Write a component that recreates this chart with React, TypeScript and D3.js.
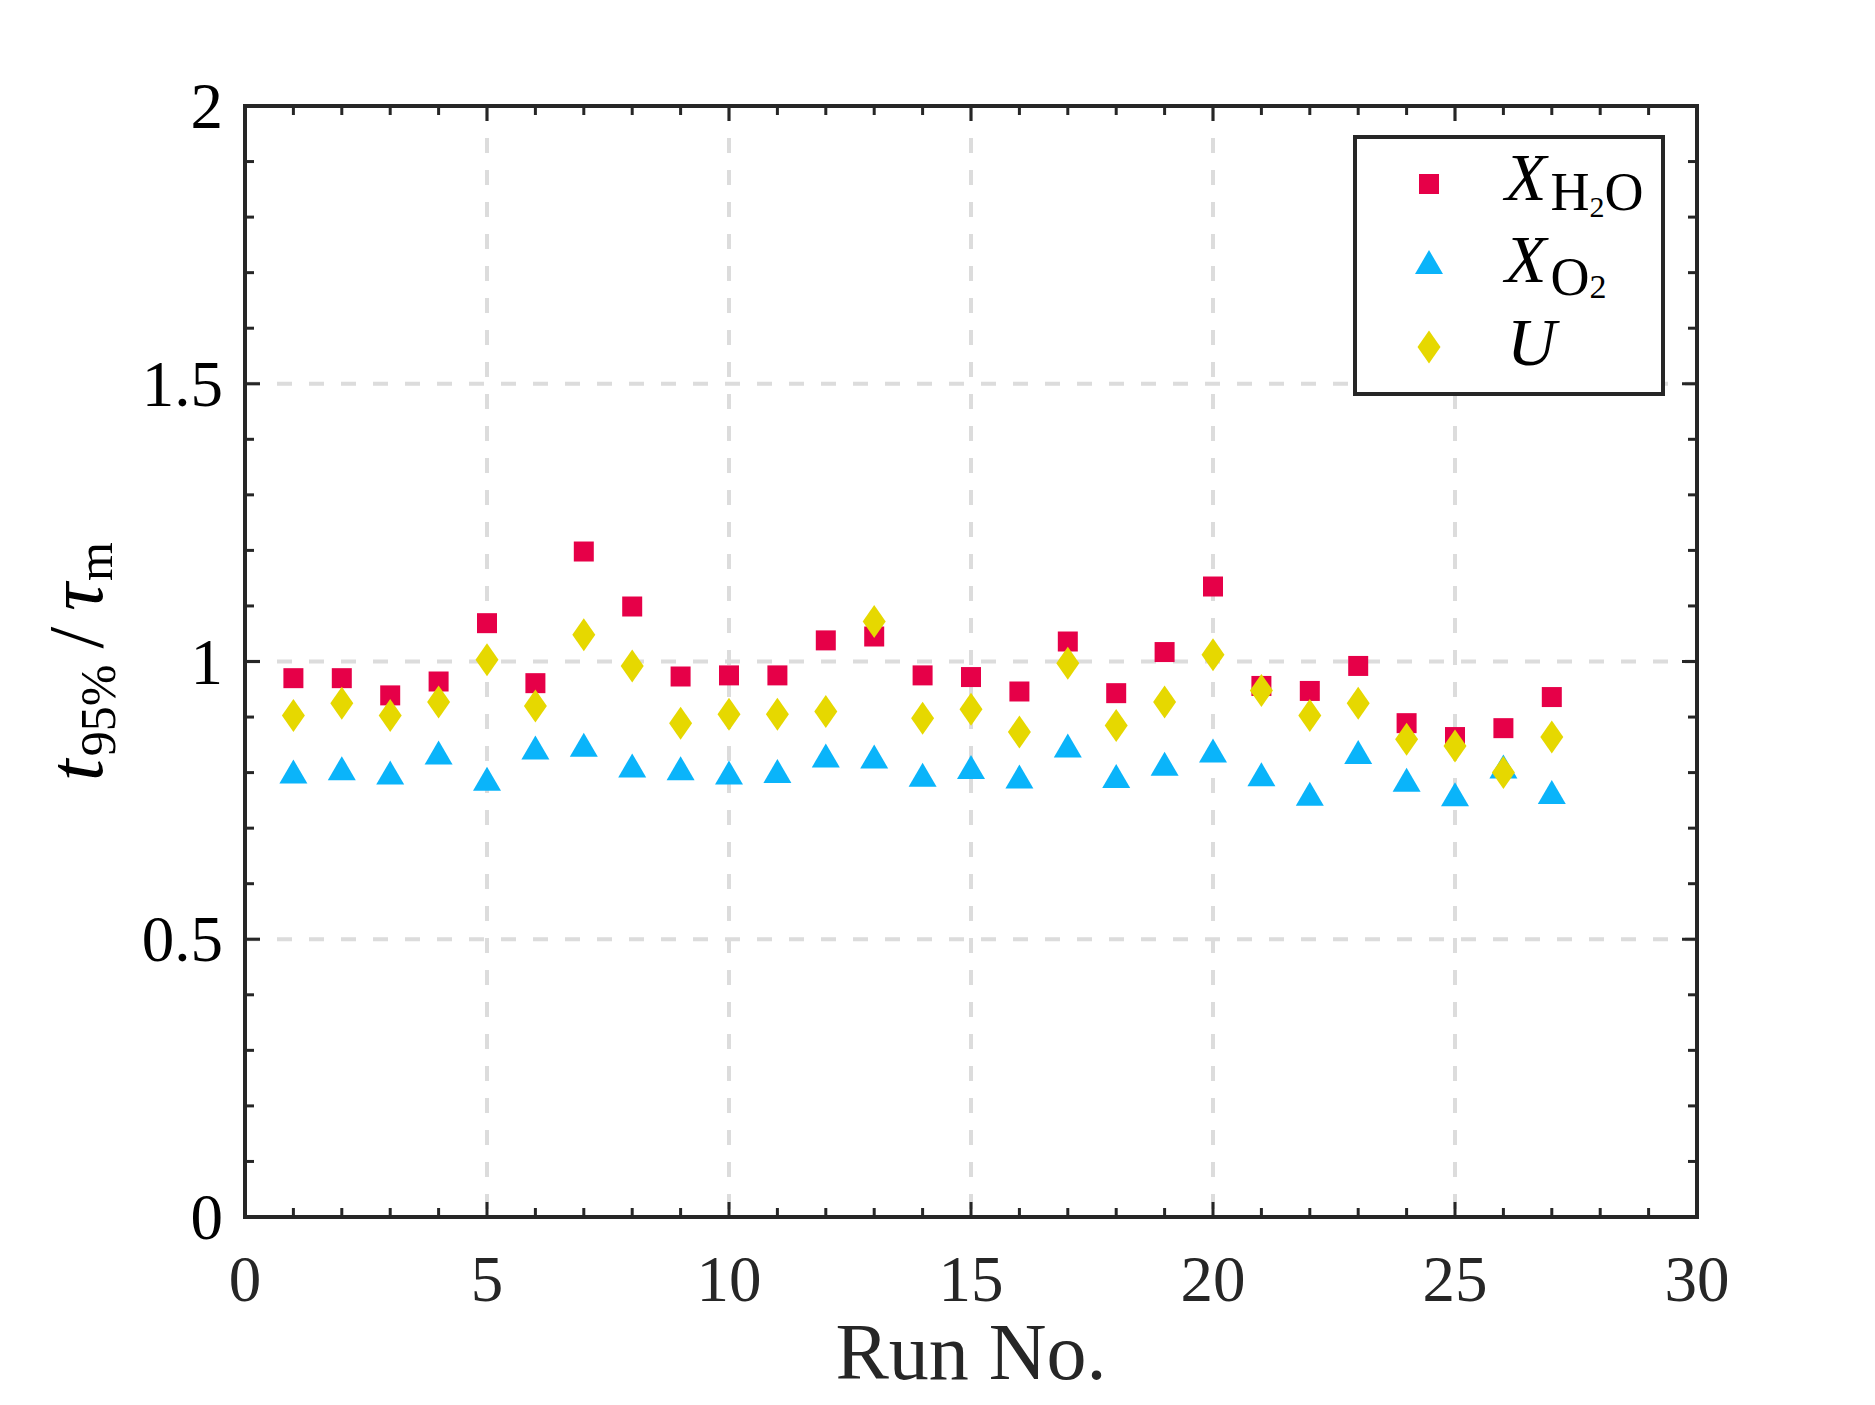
import { useEffect, useRef } from 'react';
import * as d3 from 'd3';

// Run numbers and the three normalised response times
const runs = [1, 2, 3, 4, 5, 6, 7, 8, 9, 10, 11, 12, 13, 14, 15, 16, 17, 18, 19, 20, 21, 22, 23, 24, 25, 26, 27];
const xH2O = [0.97, 0.97, 0.939, 0.964, 1.069, 0.961, 1.198, 1.099, 0.973, 0.975, 0.975, 1.038, 1.045, 0.975, 0.972, 0.946, 1.036, 0.943, 1.017, 1.135, 0.956, 0.947, 0.992, 0.889, 0.864, 0.88, 0.936];
const xO2 = [0.802, 0.808, 0.8, 0.836, 0.789, 0.845, 0.85, 0.813, 0.808, 0.8, 0.803, 0.831, 0.829, 0.796, 0.81, 0.793, 0.849, 0.794, 0.816, 0.84, 0.797, 0.762, 0.837, 0.787, 0.761, 0.811, 0.765];
const uVel = [0.903, 0.925, 0.903, 0.927, 1.003, 0.92, 1.048, 0.992, 0.889, 0.905, 0.905, 0.91, 1.072, 0.898, 0.914, 0.873, 0.997, 0.885, 0.927, 1.012, 0.948, 0.903, 0.925, 0.86, 0.848, 0.8, 0.864];

const xTicks = [0, 5, 10, 15, 20, 25, 30];
const xTickLabels = ['0', '5', '10', '15', '20', '25', '30'];
const yTicks = [0, 0.5, 1, 1.5, 2];
const yTickLabels = ['0', '0.5', '1', '1.5', '2'];

const RED = '#E60048';
const BLUE = '#0AB4FA';
const YELLOW = '#E6D800';
const AXIS = '#262626';
const FONT = '"Liberation Serif", "Times New Roman", serif';

const squarePath = 'M-10,-10H10V10H-10Z';
const trianglePath = 'M0,-12L14,12L-14,12Z';
const diamondPath = 'M0,-16.5L11.5,0L0,16.5L-11.5,0Z';

const App = () => {
  const svgRef = useRef<SVGSVGElement>(null);

  useEffect(() => {
    if (!svgRef.current) return;
    const width = 1875;
    const height = 1405;
    const margin = { top: 106, right: 178, bottom: 188, left: 245 };

    const svg = d3.select(svgRef.current);
    svg.selectAll('*').remove();
    svg.attr('width', width).attr('height', height);

    const x = d3.scaleLinear().domain([0, 30]).range([margin.left, width - margin.right]);
    const y = d3.scaleLinear().domain([0, 2]).range([height - margin.bottom, margin.top]);
    const [x0, x1] = x.range();
    const [y0, y1] = y.range();

    svg.append('rect').attr('width', width).attr('height', height).attr('fill', '#fff');

    // grid
    const grid = svg.append('g')
      .attr('stroke', '#dcdcdc')
      .attr('stroke-width', 4)
      .attr('stroke-dasharray', '15,17');
    grid.selectAll('.gx')
      .data(xTicks.slice(1, -1))
      .enter()
      .append('line')
      .attr('x1', d => x(d)).attr('x2', d => x(d))
      .attr('y1', y1).attr('y2', y0);
    grid.selectAll('.gy')
      .data(yTicks.slice(1, -1))
      .enter()
      .append('line')
      .attr('y1', d => y(d)).attr('y2', d => y(d))
      .attr('x1', x0).attr('x2', x1);

    // markers: squares, then triangles, then diamonds
    const plot = (vals: number[], path: string, color: string) => {
      svg.append('g')
        .selectAll('path')
        .data(vals)
        .enter()
        .append('path')
        .attr('d', path)
        .attr('transform', (d, i) => `translate(${x(runs[i])},${y(d)})`)
        .attr('fill', color);
    };
    plot(xH2O, squarePath, RED);
    plot(xO2, trianglePath, BLUE);
    plot(uVel, diamondPath, YELLOW);

    // ticks (inward on all four sides)
    const ticks = svg.append('g').attr('stroke', AXIS).attr('stroke-width', 3);
    const minor = 9;
    const major = 15;
    x.ticks(30).forEach(t => {
      const len = t % 5 === 0 ? major : minor;
      ticks.append('line').attr('x1', x(t)).attr('x2', x(t)).attr('y1', y0).attr('y2', y0 - len);
      ticks.append('line').attr('x1', x(t)).attr('x2', x(t)).attr('y1', y1).attr('y2', y1 + len);
    });
    y.ticks(20).forEach(t => {
      const len = Math.abs(t * 2 - Math.round(t * 2)) < 1e-6 ? major : minor;
      ticks.append('line').attr('y1', y(t)).attr('y2', y(t)).attr('x1', x0).attr('x2', x0 + len);
      ticks.append('line').attr('y1', y(t)).attr('y2', y(t)).attr('x1', x1).attr('x2', x1 - len);
    });

    // frame
    svg.append('rect')
      .attr('x', x0).attr('y', y1)
      .attr('width', x1 - x0).attr('height', y0 - y1)
      .attr('fill', 'none')
      .attr('stroke', AXIS)
      .attr('stroke-width', 4);

    // tick labels
    svg.append('g')
      .selectAll('text')
      .data(xTicks)
      .enter()
      .append('text')
      .attr('x', d => x(d))
      .attr('y', y0 + 84)
      .attr('text-anchor', 'middle')
      .attr('font-family', FONT)
      .attr('font-size', 65)
      .attr('fill', AXIS)
      .text((d, i) => xTickLabels[i]);
    svg.append('g')
      .selectAll('text')
      .data(yTicks)
      .enter()
      .append('text')
      .attr('x', x0 - 22)
      .attr('y', d => y(d) + 22)
      .attr('text-anchor', 'end')
      .attr('font-family', FONT)
      .attr('font-size', 65)
      .attr('fill', '#000')
      .text((d, i) => yTickLabels[i]);

    // axis titles
    svg.append('text')
      .attr('x', (x0 + x1) / 2)
      .attr('y', 1379)
      .attr('text-anchor', 'middle')
      .attr('font-family', FONT)
      .attr('font-size', 80)
      .attr('fill', AXIS)
      .text('Run No.');

    const yt = svg.append('text')
      .attr('transform', `translate(102,${(y0 + y1) / 2}) rotate(-90)`)
      .attr('text-anchor', 'middle')
      .attr('font-family', FONT)
      .attr('font-size', 78)
      .attr('fill', '#000');
    yt.append('tspan').attr('font-style', 'italic').text('t');
    yt.append('tspan').attr('font-size', 50).attr('dy', 13).attr('dx', 3).text('95%');
    yt.append('tspan').attr('dy', -13).attr('dx', 16).text('/');
    yt.append('tspan').attr('font-style', 'italic').attr('dx', 16).text('τ');
    yt.append('tspan').attr('font-size', 50).attr('dy', 10).attr('dx', 2).text('m');

    // legend
    const lg = svg.append('g');
    lg.append('rect')
      .attr('x', 1355).attr('y', 137)
      .attr('width', 308).attr('height', 257)
      .attr('fill', '#fff')
      .attr('stroke', AXIS)
      .attr('stroke-width', 4);
    const legendItems = [
      { path: squarePath, color: RED, cy: 184 },
      { path: trianglePath, color: BLUE, cy: 262 },
      { path: diamondPath, color: YELLOW, cy: 347 },
    ];
    lg.selectAll('path')
      .data(legendItems)
      .enter()
      .append('path')
      .attr('d', d => d.path)
      .attr('transform', d => `translate(1429,${d.cy})`)
      .attr('fill', d => d.color);

    const t1 = lg.append('text').attr('x', 1505).attr('y', 200)
      .attr('font-family', FONT).attr('font-size', 68).attr('fill', '#000');
    t1.append('tspan').attr('font-style', 'italic').text('X');
    t1.append('tspan').attr('font-size', 54).attr('dy', 10).attr('dx', 4).text('H');
    t1.append('tspan').attr('font-size', 30).attr('dy', 7).text('2');
    t1.append('tspan').attr('font-size', 54).attr('dy', -7).text('O');

    const t2 = lg.append('text').attr('x', 1505).attr('y', 282)
      .attr('font-family', FONT).attr('font-size', 68).attr('fill', '#000');
    t2.append('tspan').attr('font-style', 'italic').text('X');
    t2.append('tspan').attr('font-size', 54).attr('dy', 13).attr('dx', 4).text('O');
    t2.append('tspan').attr('font-size', 34).attr('dy', 3).text('2');

    lg.append('text').attr('x', 1507).attr('y', 365)
      .attr('font-family', FONT).attr('font-size', 68).attr('font-style', 'italic')
      .attr('fill', '#000')
      .text('U');
  }, []);

  return (
    <div style={{ position: 'absolute', left: 0, top: 0 }}>
      <svg ref={svgRef} style={{ display: 'block' }}></svg>
    </div>
  );
};

export default App;
